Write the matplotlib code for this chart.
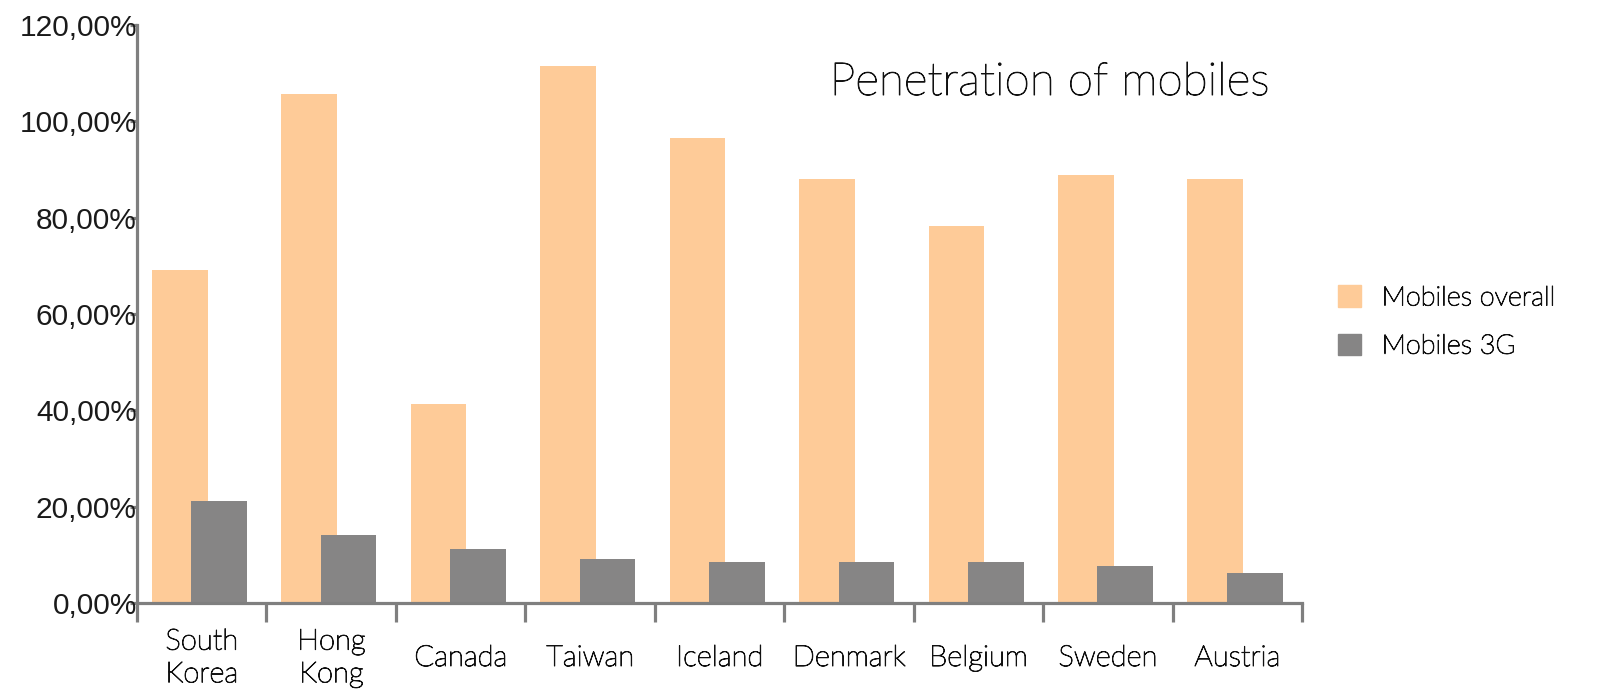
import matplotlib.pyplot as plt
import matplotlib.patheffects as pe
import numpy as np
from matplotlib.patches import Patch

# --- data ---
countries = ["South\nKorea", "Hong\nKong", "Canada", "Taiwan", "Iceland",
             "Denmark", "Belgium", "Sweden", "Austria"]
mobiles_overall = [69.1, 105.7, 41.3, 111.5, 96.5, 88.0, 78.2, 88.9, 88.0]
mobiles_3g = [21.2, 14.1, 11.3, 9.1, 8.5, 8.5, 8.5, 7.6, 6.2]
yticks = [0, 20, 40, 60, 80, 100, 120]
ytick_labels = ["0,00%", "20,00%", "40,00%", "60,00%", "80,00%", "100,00%", "120,00%"]

ORANGE = "#fecb98"
GREY = "#868585"
AXIS = "#7f7f7f"
TXT = "#111111"
THIN = "Lato"
# Lato Light is a bit too thin, thicken it slightly
thicken = [pe.withStroke(linewidth=0.7, foreground=TXT)]

fig = plt.figure(figsize=(16.08, 7), dpi=100)
ax = fig.add_axes([137 / 1608, 1 - 603 / 700, (1302 - 137) / 1608, (603 - 25) / 700])

x = np.arange(len(countries))
w = 0.43
ax.bar(x - 0.17, mobiles_overall, width=w, color=ORANGE, zorder=2, label="Mobiles overall")
ax.bar(x + 0.135, mobiles_3g, width=w, color=GREY, zorder=3, label="Mobiles 3G")

ax.set_xlim(-0.5, len(countries) - 0.5)
ax.set_ylim(0, 120)

# spines
for s in ["top", "right"]:
    ax.spines[s].set_visible(False)
for s in ["left", "bottom"]:
    ax.spines[s].set_color(AXIS)
    ax.spines[s].set_linewidth(2.3)
    ax.spines[s].set_zorder(4)

# y ticks
ax.set_yticks(yticks)
ax.set_yticklabels(ytick_labels, fontfamily="Liberation Sans", fontsize=21.5, color="#1a1a1a")
ax.tick_params(axis="y", length=5, width=2.3, color=AXIS, pad=-5)

# x ticks at category boundaries, labels drawn separately (vertically centred)
ax.set_xticks(np.arange(-0.5, len(countries), 1.0))
ax.set_xticklabels([])
ax.tick_params(axis="x", length=14, width=2.3, color=AXIS)
for i, name in enumerate(countries):
    ax.annotate(name, xy=(i, 0), xytext=(0, -55), textcoords="offset pixels",
                ha="center", va="center", fontsize=21, fontfamily=THIN,
                fontweight="light", color=TXT, linespacing=1.32,
                annotation_clip=False, path_effects=thicken)

fig.text(1050 / 1608, 1 - 95 / 700, "Penetration of mobiles", ha="center", va="baseline",
         fontsize=33, fontfamily=THIN, fontweight="light", color=TXT, path_effects=thicken)

handles = [Patch(color=ORANGE), Patch(color=GREY)]
leg = fig.legend(handles, ["Mobiles overall", "Mobiles 3G"], loc="center left",
                 bbox_to_anchor=(1314 / 1608, 1 - 322 / 700), frameon=False,
                 prop={"family": THIN, "weight": "light", "size": 19.5},
                 handlelength=0.85, handleheight=0.85, handletextpad=0.75, labelspacing=0.85,
                 labelcolor=TXT)
for t in leg.get_texts():
    t.set_path_effects(thicken)

fig.savefig("out.png", dpi=100)
